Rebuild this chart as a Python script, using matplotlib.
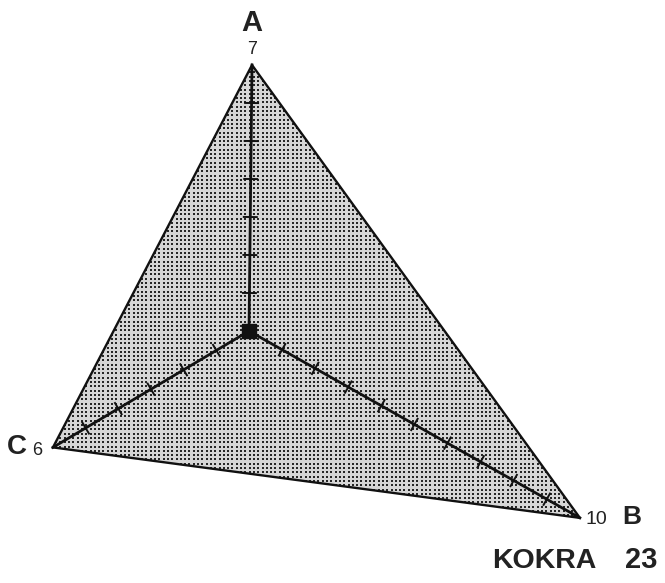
import numpy as np
import matplotlib
matplotlib.use("Agg")
import matplotlib.pyplot as plt
from matplotlib.patches import Polygon

# axis data
axis_names = ["A", "B", "C"]
axis_values = [7, 10, 6]
axis_angles = [89.35, -29.46, 210.7]   # degrees, direction of each arm
title_name = "KOKRA"
title_num = "23"

plt.rcParams['font.family'] = ['Liberation Sans', 'DejaVu Sans']

W, H = 665, 583
UNIT = 38.0          # pixels per unit along an arm
CX, CY = 249, 331    # centre of the star in pixels

fig = plt.figure(figsize=(W / 100, H / 100), dpi=100)
ax = fig.add_axes([0, 0, 1, 1])
ax.set_xlim(-CX / UNIT, (W - CX) / UNIT)
ax.set_ylim(-(H - CY) / UNIT, CY / UNIT)
ax.set_aspect('equal')
ax.axis('off')

dirs = [np.array([np.cos(np.radians(a)), np.sin(np.radians(a))]) for a in axis_angles]
ends = [v * d for v, d in zip(axis_values, dirs)]

# stippled triangle
tri = Polygon(ends, closed=True, facecolor='#d6d6d6', edgecolor='none', zorder=1)
ax.add_patch(tri)
step = 4.3 / UNIT
gx, gy = np.meshgrid(np.arange(-7, 11, step), np.arange(-7, 9, step))
dots = ax.scatter(gx.ravel(), gy.ravel(), s=4.6, marker='s', color='#262626',
                  linewidths=0, zorder=2)
dots.set_clip_path(tri)
ax.add_patch(Polygon(ends, closed=True, facecolor='none', edgecolor='#111111',
                     lw=1.7, joinstyle='miter', zorder=3))

# arms with tick marks
half = 6.5 / UNIT
for v, d in zip(axis_values, dirs):
    ax.plot([0, v * d[0]], [0, v * d[1]], color='#111111', lw=2.0, zorder=4)
    perp = np.array([-d[1], d[0]])
    for t in range(1, v):
        p = t * d
        ax.plot([p[0] - half * perp[0], p[0] + half * perp[0]],
                [p[1] - half * perp[1], p[1] + half * perp[1]],
                color='#111111', lw=1.4, zorder=4)

ax.scatter([0], [0], s=100, marker='s', color='#111111', zorder=5)

# labels at the arm ends (offsets in points)
label_offsets = {
    "A": ((0, 30), (0, 11.5), 21, 13),
    "B": ((37, 1), (12, -1), 19, 14),
    "C": ((-26, 0), (-11, -2), 20, 13),
}
for name, v, e in zip(axis_names, axis_values, ends):
    (lo, no, lsize, nsize) = label_offsets[name]
    ax.annotate(name, xy=e, xytext=lo, textcoords='offset points',
                ha='center', va='center', fontsize=lsize, fontweight='bold',
                color='#222222')
    ax.annotate(str(v), xy=e, xytext=no, textcoords='offset points',
                ha='center', va='center', fontsize=nsize, color='#222222')

fig.text(492 / W, 1 - 568 / H, title_name, ha='left', va='baseline',
         fontsize=20.5, fontweight='bold', color='#222222')
fig.text(657 / W, 1 - 568 / H, title_num, ha='right', va='baseline',
         fontsize=21, fontweight='bold', color='#222222')

fig.savefig('out.png', dpi=100)
